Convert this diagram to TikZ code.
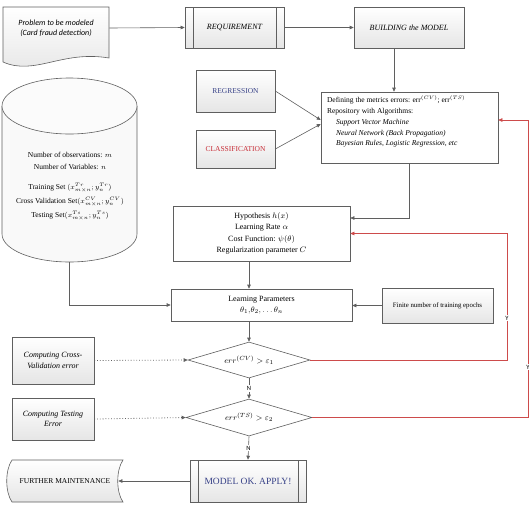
\documentclass[tikz,border=0pt]{standalone}
\usepackage{fontspec}
\setmainfont{Liberation Serif}
\newfontfamily\calibri{Carlito}
\usetikzlibrary{shapes.geometric,arrows.meta}
\definecolor{edge}{RGB}{95,95,95}
\definecolor{redline}{RGB}{205,75,75}
\definecolor{regblue}{RGB}{55,65,135}
\definecolor{clsred}{RGB}{200,45,55}
\tikzset{every picture/.style={x=1pt,y=-1pt,line width=0.6pt}}
\tikzset{box/.style={draw=edge, fill=white, align=center, inner sep=2pt, font=\fontsize{8}{10}\selectfont}}
\tikzset{shadebox/.style={box, top color=white, bottom color=gray!20}}
\tikzset{procbox/.style={shadebox, path picture={
  \draw[edge] ([xshift=8pt]path picture bounding box.north west) -- ([xshift=8pt]path picture bounding box.south west);
  \draw[edge] ([xshift=-8pt]path picture bounding box.north east) -- ([xshift=-8pt]path picture bounding box.south east);}}}
\tikzset{test/.style={diamond, draw=edge, fill=white, inner sep=0pt, aspect=3.3, font=\fontsize{8}{9}\selectfont}}
\tikzset{arr/.style={draw=edge, -{Triangle[length=4pt,width=3.5pt]}}}
\tikzset{dotarr/.style={arr, dotted, line width=0.8pt}}
\tikzset{redarr/.style={draw=redline, -{Triangle[length=4pt,width=3.5pt]}}}
\tikzset{flag/.style={fill=white, inner sep=1pt, font=\calibri\fontsize{6.5}{6.5}\selectfont}}
\newcommand{\errs}[1]{err$^{(#1)}$}

\begin{document}
\begin{tikzpicture}
\useasboundingbox (0,0) rectangle (529,507);
% outlines drawn by hand
\draw[draw=edge, top color=white, bottom color=gray!20] (3,7) -- (109,7) -- (109,58) .. controls (62,50) and (35,76) .. (3,62) -- cycle;
\draw[draw=edge, fill=gray!5] (2,106) -- (2,234) arc[start angle=180, end angle=360, x radius=67.5pt, y radius=28pt] -- (137,106);
\draw[draw=edge, fill=gray!3] (69.5,106) ellipse[x radius=67.5pt, y radius=28pt];
\draw[draw=edge, top color=white, bottom color=gray!20] (12,460) -- (123,460) .. controls (116,470) and (116,492) .. (123,502) -- (12,502) .. controls (5,492) and (5,470) .. (12,460) -- cycle;

\node[minimum width=106pt, align=center, font=\calibri\itshape\fontsize{8}{10}\selectfont] (prob) at (56,28) {Problem to be modeled\\(Card fraud detection)};
\node[procbox, minimum width=99pt, minimum height=41pt, font=\itshape\fontsize{8}{10}\selectfont] (req) at (234.5,27.5) {REQUIREMENT};
\node[shadebox, minimum width=110pt, minimum height=41pt, font=\itshape\fontsize{8}{10}\selectfont] (build) at (409,27.5) {BUILDING the MODEL};
\node[shadebox, minimum width=79pt, minimum height=42pt, text=regblue, font=\fontsize{7.5}{9}\selectfont] (reg) at (235.5,91) {REGRESSION};
\node[shadebox, minimum width=79pt, minimum height=38pt, text=clsred, font=\fontsize{7.5}{9}\selectfont] (cls) at (235.5,149) {CLASSIFICATION};
\node[box, minimum width=177pt, minimum height=71pt] (define) at (409.5,127.5) {};
\node[anchor=north west, align=left, inner sep=0pt, font=\fontsize{7.5}{10.8}\selectfont] (definetext) at ([shift={(6pt,-4pt)}]define.north west)
  {Defining the metrics errors: \errs{CV}; \errs{TS}\\
   Repository with Algorithms:\\
   \hspace*{9pt}\textit{Support Vector Machine}\\
   \hspace*{9pt}\textit{Neural Network (Back Propagation)}\\
   \hspace*{9pt}\textit{Bayesian Rules, Logistic Regression, etc}};
\node[align=center, font=\fontsize{7.5}{12}\selectfont] (db) at (70,186)
  {Number of observations: $m$\\Number of Variables: $n$\\[8pt]
   Training Set $(x^{Tr}_{m\times n};y^{Tr}_n)$\\[2pt]
   Cross Validation Set$(x^{CV}_{m\times n};y^{CV}_n)$\\[2pt]
   Testing Set$(x^{Ts}_{m\times n};y^{Ts}_n)$};
\coordinate (dbbot) at (69.5,262);
\node[box, minimum width=177pt, minimum height=55pt, font=\fontsize{8}{11.5}\selectfont] (hyp) at (261.5,233.5)
  {Hypothesis $h(x)$\\Learning Rate $\alpha$\\Cost Function: $\psi(\theta)$\\Regularization parameter $C$};
\node[box, minimum width=181pt, minimum height=32pt, font=\fontsize{8}{11}\selectfont] (learn) at (261.5,305)
  {Learning Parameters\\$\theta_1,\!\theta_2,\ldots\theta_n$};
\node[shadebox, minimum width=111pt, minimum height=35pt, font=\fontsize{6.8}{8}\selectfont] (finite) at (437.5,305.5) {Finite number of training epochs};
\node[test, minimum width=122pt, minimum height=36pt] (dia1) at (249,360) {$err^{(CV)} > \varepsilon_1$};
\node[test, minimum width=126pt, minimum height=37pt] (dia2) at (249,417.5) {$err^{(TS)} > \varepsilon_2$};
\node[shadebox, minimum width=82pt, minimum height=47pt, font=\itshape\fontsize{8}{10.5}\selectfont] (ccv) at (53,360.5) {Computing Cross-\\Validation error};
\node[shadebox, minimum width=82pt, minimum height=42pt, font=\itshape\fontsize{8}{10.5}\selectfont] (cts) at (53,419) {Computing Testing\\Error};
\node[procbox, minimum width=116pt, minimum height=42pt, text=regblue, font=\fontsize{9.5}{11}\selectfont] (model) at (248,481) {MODEL OK. APPLY!};
\node[minimum width=106pt, font=\fontsize{7.5}{9}\selectfont] (further) at (65,481) {FURTHER MAINTENANCE};
\coordinate (r1) at (507,360);
\coordinate (r2) at (528,417.5);
\coordinate (r3) at (528,120);

\draw[arr] (prob.east) -- (req.west);
\draw[arr] (req.east) -- (build.west);
\draw[arr] ([xshift=-15pt]build.south) -- ([xshift=-15pt]build.south |- define.north);
\draw[arr] (reg.east) -- ([yshift=7.5pt]define.west);
\draw[arr] (cls.east) -- ([yshift=3.5pt]define.west);
\draw[arr] (define.south) |- ([yshift=15.5pt]hyp.east);
\draw[arr] (dbbot) |- (learn.west);
\draw[arr] (hyp.south -| dia1.north) -- (learn.north -| dia1.north);
\draw[arr] (finite.west) -- (finite.west -| learn.east);
\draw[arr] (learn.south -| dia1.north) -- (dia1.north);
\draw[dotarr] (ccv.east) -- (dia1.west);
\draw[dotarr] (cts.east) -- (dia2.west);
\draw[arr] (dia1.south) -- node[flag]{N} (dia2.north);
\draw[arr] (dia2.south) -- node[flag]{N} (model.north);
\draw[arr] (model.west) -- (further.east);
\draw[redarr] (dia1.east) -- (r1) -- node[flag, pos=.33]{Y} (r1 |- hyp.east) -- (hyp.east);
\draw[redarr] (dia2.east) -- (r2) -- node[flag, pos=.17]{Y} (r3) -- (r3 -| define.east);
\end{tikzpicture}
\end{document}
